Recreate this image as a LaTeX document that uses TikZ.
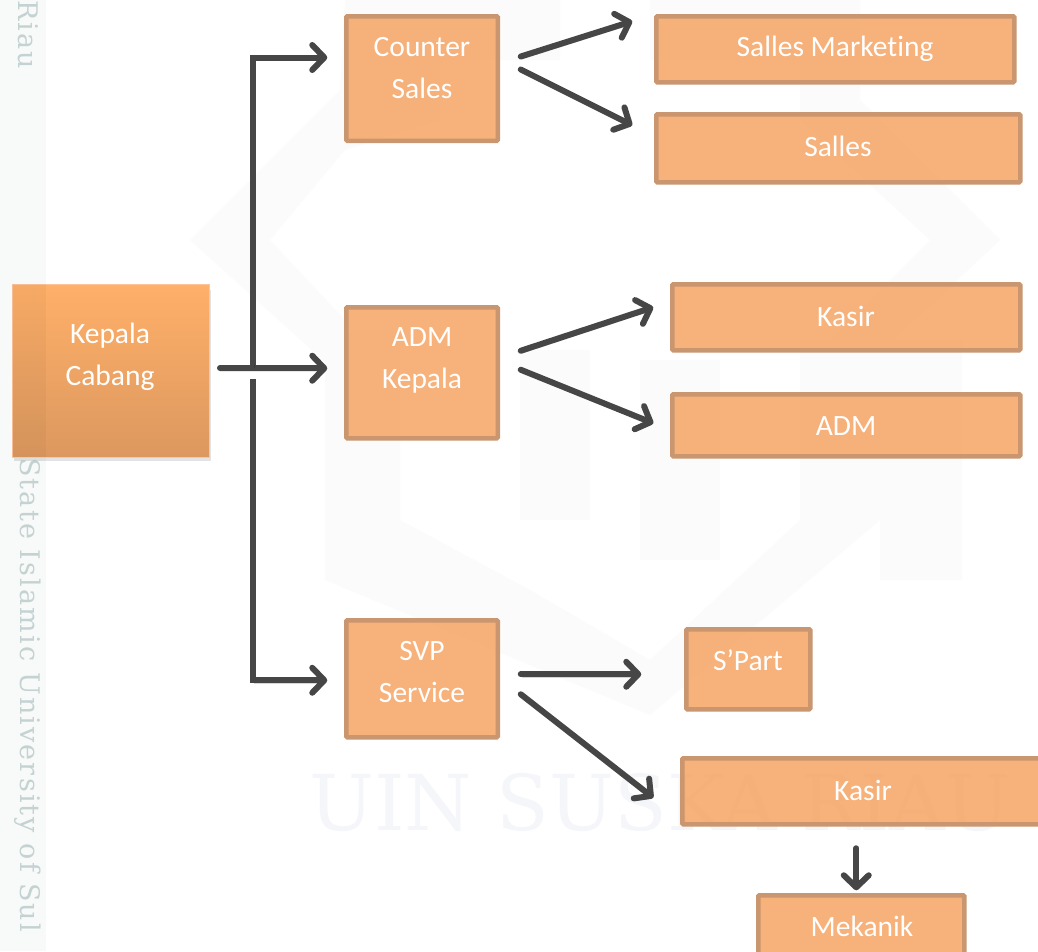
\documentclass[tikz,border=0pt]{standalone}
\usepackage{fontspec}
\setmainfont[Ligatures=NoCommon]{Carlito}
\newfontfamily\wmfont{DejaVu Serif}
\newfontfamily\sidefont[LetterSpace=8]{DejaVu Serif}
\usetikzlibrary{arrows.meta,calc}
\definecolor{boxfill}{HTML}{F6A463}
\definecolor{boxline}{HTML}{C99670}
\definecolor{headtop}{HTML}{FFB069}
\definecolor{headbot}{HTML}{DC985F}
\definecolor{headline}{HTML}{FFC59A}
\definecolor{linecol}{HTML}{464646}
\definecolor{wmpale}{HTML}{FBFBFB}
\definecolor{wmstrip}{HTML}{F8F9F9}
\definecolor{wmtext}{HTML}{F5F6FA}
\definecolor{sidetext}{HTML}{C4D2D2}
\tikzset{
  x=1pt,y=-1pt,
  orgbox/.style={rectangle,draw=boxline,line width=4.5pt,fill=boxfill,fill opacity=.85,rounded corners=1pt,inner sep=0pt,outer sep=0pt},
  headbox/.style={rectangle,draw=headline,line width=1pt,top color=headtop,bottom color=headbot,inner sep=0pt,outer sep=0pt},
  boxtext/.style={text=white,font=\fontsize{29.5}{41.5}\selectfont,align=center,inner sep=0pt},
  arr/.style={draw=linecol,line width=6pt,line cap=round,line join=round,
    -{Straight Barb[length=12pt,width=25pt,line width=6pt,round]},
    preaction={draw=black,draw opacity=.16,transform canvas={xshift=1.5pt,yshift=-2.5pt}}},
  trunk/.style={draw=linecol,line width=6pt,line join=miter,
    -{Straight Barb[length=12pt,width=25pt,line width=6pt,round]},
    preaction={draw=black,draw opacity=.16,transform canvas={xshift=1.5pt,yshift=-2.5pt}}},
  wmshape/.style={fill=wmpale,draw=none},
}
\newcommand{\orgbox}[6][orgbox]{%
  \node[#1,minimum width=#4pt,minimum height=#5pt,anchor=north west] (#6) at (#2,#3) {};}
\begin{document}
\begin{tikzpicture}
\useasboundingbox (0,0) rectangle (1038,951);
\fill[white] (0,0) rectangle (1038,951);
% faint watermark
\fill[wmstrip] (0,0) rectangle (46,951);
\fill[wmshape] (190,240) -- (340,90) -- (345,0) -- (560,0) -- (560,60) -- (440,60) -- (440,120) -- (345,150) -- (270,240) -- (345,320) -- (345,380) -- cycle;
\fill[wmshape] (1000,240) -- (860,100) -- (860,0) -- (650,0) -- (650,60) -- (800,60) -- (800,120) -- (930,240) -- (830,340) -- (830,400) -- cycle;
\fill[wmshape] (325,330) -- (400,330) -- (400,520) -- (530,590) -- (650,660) -- (800,520) -- (800,340) -- (962,340) -- (962,580) -- (880,580) -- (880,520) -- (650,715) -- (325,580) -- cycle;
\fill[wmshape] (520,350) -- (590,350) -- (590,520) -- (520,520) -- cycle;
\fill[wmshape] (640,360) -- (720,360) -- (720,560) -- (640,560) -- cycle;
\node[anchor=center,text=wmtext,font=\wmfont\fontsize{77}{77}\selectfont,inner sep=0pt] (wm) at (660,802) {UIN SUSKA RIAU};
\node[rotate=-90,anchor=west,text=sidetext,font=\sidefont\fontsize{27}{27}\selectfont,inner sep=0pt] (sideA) at (28,0) {Riau};
\node[rotate=-90,anchor=west,text=sidetext,font=\sidefont\fontsize{27}{27}\selectfont,inner sep=0pt] (sideB) at (28,458) {State Islamic University of Sul};
% boxes
\fill[black,opacity=.11] (14,290) rectangle (211,461);
\orgbox[headbox]{12}{284}{197}{173}{kc}
\fill[black,opacity=.03] (12,284) rectangle (46,457);
\orgbox{346.25}{16.25}{151.5}{124.5}{cs}
\orgbox{656.25}{16.25}{358}{66}{sm}
\orgbox{656.25}{114.25}{364}{68}{sl}
\orgbox{346.25}{307.25}{151.5}{131}{ak}
\orgbox{672.25}{284.25}{348}{66}{ks}
\orgbox{672.25}{394.25}{348}{62}{ad}
\orgbox{346.25}{620.25}{151.5}{117}{sv}
\orgbox{686.25}{629.25}{124}{80}{sp}
\orgbox{682.25}{758.25}{370}{66}{kb}
\orgbox{758.25}{895.25}{206}{70}{mk}
% labels
\node[boxtext] (kcT) at ($(kc.north west)+(98,73)$) {Kepala\\Cabang};
\node[boxtext] (csT) at ($(cs.north west)+(75.75,52)$) {Counter\\Sales};
\node[boxtext] (akT) at ($(ak.north west)+(75.75,53)$) {ADM\\Kepala};
\node[boxtext] (svT) at ($(sv.north west)+(75.75,52)$) {SVP\\Service};
\node[boxtext] (smT) at (835,49) {Salles Marketing};
\node[boxtext] (slT) at (838,146) {Salles};
\node[boxtext] (ksT) at (846,316) {Kasir};
\node[boxtext] (adT) at (846,426) {ADM};
\node[boxtext] (spT) at (748,660) {S’Part};
\node[boxtext] (kbT) at (863,790) {Kasir};
\node[boxtext] (mkT) at (862,926) {Mekanik};
% connectors
\coordinate (hub) at (253,368);
\draw[arr] ($(kc.east)+(11,-2.5)$) -- ($(ak.west)+(-19,-4.5)$);
\draw[trunk] ($(hub)+(0,-3)$) -- ($(hub |- cs.west)+(0,-21)$) -- ($(cs.west)+(-19,-21)$);
\draw[trunk] ($(hub)+(0,11)$) -- ($(hub |- sv.west)+(0,1.5)$) -- ($(sv.west)+(-19,1.5)$);
\draw[arr] ($(cs.east)+(23,-22)$) -- ($(sm.west)+(-24,-28)$);
\draw[arr] ($(cs.east)+(23,-9)$) -- ($(sl.west)+(-24,-23)$);
\draw[arr] ($(ak.east)+(23,-22)$) -- ($(ks.west)+(-19,-10)$);
\draw[arr] ($(ak.east)+(23,-3)$) -- ($(ad.west)+(-19,-2)$);
\draw[arr] ($(sv.east)+(23,-4.5)$) -- ($(sp.west)+(-45,5)$);
\draw[arr] ($(sv.east)+(23,15.5)$) -- ($(kb.west)+(-29,6.5)$);
\draw[arr] ($(kb.south)+(-11,24)$) -- ($(mk.north)+(-5,-5)$);
\end{tikzpicture}
\end{document}
